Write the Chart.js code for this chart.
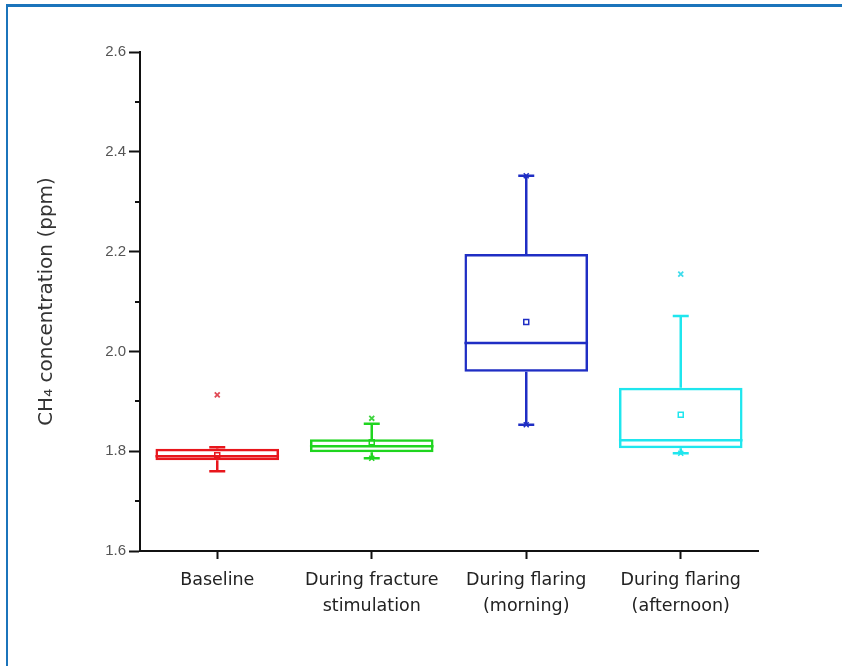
<!DOCTYPE html>
<html>
<head>
<meta charset="utf-8">
<script src="https://cdn.jsdelivr.net/npm/chart.js@4/dist/chart.umd.min.js"></script>
<style>
    html, body { margin: 0; padding: 0; background: #fff; }
    #wrap { position: relative; width: 842px; height: 666px; overflow: hidden; }
    #frame {
        position: absolute; left: 6px; top: 4px; right: -10px; bottom: -10px;
        border-top: 3px solid #1b74bb; border-left: 2px solid #1b74bb;
    }
    canvas { position: absolute; left: 0; top: 0; }
</style>
</head>
<body>
<div id="wrap">
    <div id="frame"></div>
    <canvas id="box-chart" width="842" height="666"></canvas>
</div>
<script>
const categories = ['Baseline', ['During fracture', 'stimulation'], ['During flaring', '(morning)'], ['During flaring', '(afternoon)']];
const whiskerLow = [1.760, 1.786, 1.853, 1.796];
const q1 = [1.782, 1.798, 1.959, 1.806];
const median = [1.790, 1.810, 2.017, 1.822];
const q3 = [1.805, 1.824, 2.195, 1.927];
const whiskerHigh = [1.808, 1.855, 2.352, 2.071];
const means = [1.792, 1.818, 2.059, 1.873];
const outliers = [1.913, 1.866, null, 2.155];
const maxMarks = [null, null, 2.352, null];
const minMarks = [null, 1.786, 1.853, 1.796];
const yTicksMinor = [1.7, 1.9, 2.1, 2.3, 2.5];

const colors = ['#e8161c', '#1fd51f', '#1f2ec4', '#1fe6ee'];
const outlierColors = ['#e04a55', '#3fd43f', '#3a46c8', '#3fdcec'];

// whiskers, caps, medians and the minor y ticks
const boxExtras = {
    id: 'boxExtras',
    afterDatasetsDraw(chart) {
        const { ctx, scales: { x, y } } = chart;
        const bars = chart.getDatasetMeta(0).data;
        ctx.save();
        ctx.lineWidth = 2.5;
        categories.forEach((c, i) => {
            const cx = x.getPixelForValue(i);
            const half = bars[i].width / 2;
            ctx.strokeStyle = colors[i];
            ctx.beginPath();
            ctx.moveTo(cx, y.getPixelForValue(q3[i]));
            ctx.lineTo(cx, y.getPixelForValue(whiskerHigh[i]));
            ctx.moveTo(cx, y.getPixelForValue(q1[i]));
            ctx.lineTo(cx, y.getPixelForValue(whiskerLow[i]));
            [whiskerHigh[i], whiskerLow[i]].forEach(v => {
                const py = y.getPixelForValue(v);
                ctx.moveTo(cx - 8, py);
                ctx.lineTo(cx + 8, py);
            });
            const my = y.getPixelForValue(median[i]);
            ctx.moveTo(cx - half, my);
            ctx.lineTo(cx + half, my);
            ctx.stroke();
        });
        ctx.strokeStyle = '#111';
        ctx.lineWidth = 2;
        ctx.beginPath();
        yTicksMinor.forEach(v => {
            const py = Math.round(y.getPixelForValue(v));
            ctx.moveTo(y.right - 5, py);
            ctx.lineTo(y.right, py);
        });
        ctx.stroke();
        ctx.restore();
    }
};

new Chart(document.getElementById('box-chart'), {
    type: 'bar',
    data: {
        labels: categories,
        datasets: [
            {
                data: q1.map((v, i) => [v, q3[i]]),
                backgroundColor: 'rgba(0,0,0,0)',
                borderColor: colors,
                borderWidth: 2.5,
                borderSkipped: false,
                barPercentage: 0.8,
                categoryPercentage: 1
            },
            {
                type: 'line',
                data: means,
                showLine: false,
                pointStyle: 'rect',
                pointRadius: 3.5,
                pointBorderWidth: 1.5,
                pointBackgroundColor: '#fff',
                pointBorderColor: colors
            },
            {
                type: 'line',
                data: outliers,
                showLine: false,
                pointStyle: 'crossRot',
                pointRadius: 3.5,
                pointBorderWidth: 1.8,
                pointBorderColor: outlierColors
            },
            {
                type: 'line',
                data: maxMarks,
                showLine: false,
                pointStyle: 'crossRot',
                pointRadius: 3.5,
                pointBorderWidth: 1.5,
                pointBorderColor: colors
            },
            {
                type: 'line',
                data: minMarks,
                showLine: false,
                pointStyle: 'crossRot',
                pointRadius: 3.5,
                pointBorderWidth: 1.5,
                pointBorderColor: colors
            }
        ]
    },
    options: {
        responsive: false,
        animation: false,
        layout: { padding: { top: 52, right: 84, left: 0, bottom: 0 } },
        plugins: {
            legend: { display: false },
            tooltip: { enabled: false }
        },
        scales: {
            x: {
                offset: true,
                grid: { offset: false, drawOnChartArea: false, tickLength: 8, tickColor: '#111', tickWidth: 2 },
                border: { color: '#111', width: 2 },
                ticks: {
                    color: '#222',
                    padding: 9,
                    maxRotation: 0,
                    font: { family: 'DejaVu Sans', size: 17.5, lineHeight: 1.45 }
                },
                afterFit(scale) { scale.height = 115; }
            },
            y: {
                min: 1.6,
                max: 2.6,
                grid: { drawOnChartArea: false, tickLength: 11, tickColor: '#111', tickWidth: 2 },
                border: { color: '#111', width: 2 },
                ticks: {
                    stepSize: 0.2,
                    color: '#555',
                    padding: 3,
                    font: { family: 'Liberation Sans', size: 15 },
                    callback: v => v.toFixed(1)
                },
                title: {
                    display: true,
                    text: 'CH₄ concentration (ppm)',
                    color: '#333',
                    padding: { top: 35, bottom: 0 },
                    font: { family: 'DejaVu Sans', size: 20 }
                },
                afterFit(scale) { scale.width = 140; }
            }
        }
    },
    plugins: [boxExtras]
});
</script>
</body>
</html>
